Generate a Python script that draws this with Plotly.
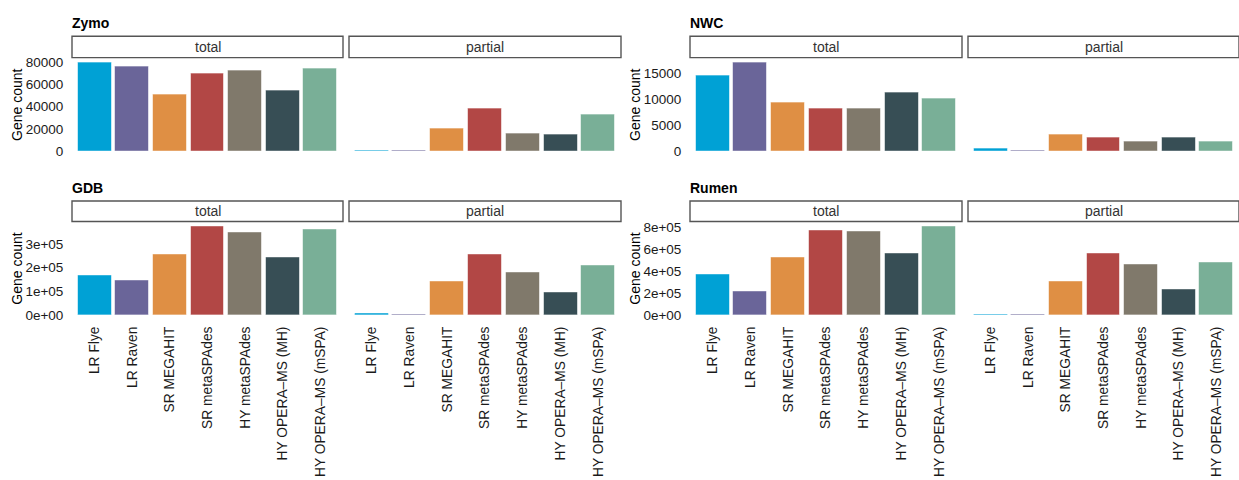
import plotly.graph_objects as go

# Assembly methods (x categories) and their palette
methods = ["LR Flye", "LR Raven", "SR MEGAHIT", "SR metaSPAdes",
           "HY metaSPAdes", "HY OPERA–MS (MH)", "HY OPERA–MS (mSPA)"]
colors = ["#00A1D5", "#6A6599", "#DF8F44", "#B24745",
          "#80796B", "#374E55", "#79AF97"]

# Gene counts per dataset: total and partial genes
zymo_total = [79000, 76000, 50500, 69500, 72300, 54000, 74000]
zymo_partial = [800, 400, 20000, 38500, 16000, 14800, 32800]
nwc_total = [14550, 16900, 9350, 8150, 8100, 11200, 10150]
nwc_partial = [550, 200, 3180, 2570, 1850, 2570, 1780]
gdb_total = [166000, 146000, 256000, 373000, 348000, 245000, 363000]
gdb_partial = [8000, 4000, 142000, 256000, 180000, 96000, 211000]
rumen_total = [376000, 220000, 529000, 775000, 767000, 561000, 808000]
rumen_partial = [8000, 3000, 311000, 561000, 464000, 235000, 485000]

# Y tick positions and labels per dataset
zymo_tickvals = [0, 20000, 40000, 60000, 80000]
zymo_ticktext = ["0", "20000", "40000", "60000", "80000"]
nwc_tickvals = [0, 5000, 10000, 15000]
nwc_ticktext = ["0", "5000", "10000", "15000"]
gdb_tickvals = [0, 100000, 200000, 300000]
gdb_ticktext = ["0e+00", "1e+05", "2e+05", "3e+05"]
rumen_tickvals = [0, 200000, 400000, 600000, 800000]
rumen_ticktext = ["0e+00", "2e+05", "4e+05", "6e+05", "8e+05"]

facets = ["total", "partial"]

W, H = 1239, 480
FONT = "Liberation Sans, Arial, sans-serif"

panels = [
    ("Zymo", zymo_total, zymo_partial, zymo_tickvals, zymo_ticktext, 0, 0),
    ("NWC", nwc_total, nwc_partial, nwc_tickvals, nwc_ticktext, 1, 0),
    ("GDB", gdb_total, gdb_partial, gdb_tickvals, gdb_ticktext, 0, 1),
    ("Rumen", rumen_total, rumen_partial, rumen_tickvals, rumen_ticktext, 1, 1),
]

# pixel geometry of the facet grid
col_x = [[(72, 343), (349, 621)], [(690, 962), (968, 1239)]]
row_plot = [(56, 151), (224, 319)]
row_strip = [(33, 55), (202, 223)]
row_title = [20, 189]


def px_x(v):
    return v / W


def px_y(v):
    return 1 - v / H


fig = go.Figure()
layout = {}
shapes = []
annotations = []

for p, (name, tot, par, tv, tt, col, row) in enumerate(panels):
    ymax = max(tot + par) * 1.05
    y0, y1 = row_plot[row]
    for f, vals in enumerate([tot, par]):
        n = p * 2 + f + 1
        x0, x1 = col_x[col][f]
        fig.add_trace(go.Bar(
            x=methods, y=vals, width=0.9,
            marker=dict(color=colors, line=dict(color="rgba(255,255,255,0.55)", width=1)),
            xaxis=f"x{n}", yaxis=f"y{n}", showlegend=False,
            hovertemplate="%{x}: %{y}<extra>" + facets[f] + "</extra>",
        ))
        layout[f"xaxis{n}"] = dict(
            domain=[px_x(x0), px_x(x1)], anchor=f"y{n}",
            type="category", categoryorder="array", categoryarray=methods,
            range=[-0.6, 6.6], showgrid=False, zeroline=False, showline=False,
            ticks="outside", ticklen=5, tickcolor="rgba(0,0,0,0)",
            showticklabels=(row == 1), tickangle=-90,
            tickfont=dict(family=FONT, size=13.8, color="#1a1a1a"),
        )
        layout[f"yaxis{n}"] = dict(
            domain=[px_y(y1), px_y(y0)], anchor=f"x{n}",
            range=[0, ymax], showgrid=False, zeroline=False, showline=False,
            tickvals=tv, ticktext=tt,
            ticks="outside", ticklen=5, tickcolor="rgba(0,0,0,0)",
            showticklabels=(f == 0),
            tickfont=dict(family=FONT, size=13.5, color="#1a1a1a"),
        )
        # facet strip
        s0, s1 = row_strip[row]
        shapes.append(dict(type="rect", xref="paper", yref="paper",
                           x0=px_x(x0), x1=px_x(x1), y0=px_y(s1), y1=px_y(s0),
                           fillcolor="white", line=dict(color="#555555", width=1.4)))
        annotations.append(dict(text=facets[f], xref="paper", yref="paper",
                                x=px_x((x0 + x1) / 2), y=px_y((s0 + s1) / 2),
                                showarrow=False, xanchor="center", yanchor="middle",
                                font=dict(family=FONT, size=14, color="#333333")))
    # panel title
    tx = col_x[col][0][0]
    annotations.append(dict(text=f"<b>{name}</b>", xref="paper", yref="paper",
                            x=px_x(tx - 2), y=px_y(row_title[row]),
                            showarrow=False, xanchor="left", yanchor="middle",
                            font=dict(family=FONT, size=14, color="black")))
    # y axis title
    annotations.append(dict(text="Gene count", xref="paper", yref="paper",
                            x=px_x(tx - 55), y=px_y((y0 + y1) / 2), textangle=-90,
                            showarrow=False, xanchor="center", yanchor="middle",
                            font=dict(family=FONT, size=14, color="black")))

fig.update_layout(
    width=W, height=H, margin=dict(l=0, r=0, t=0, b=0),
    paper_bgcolor="white", plot_bgcolor="white",
    bargap=0, shapes=shapes, annotations=annotations,
    font=dict(family=FONT), **layout,
)

fig.write_html("out.html")
